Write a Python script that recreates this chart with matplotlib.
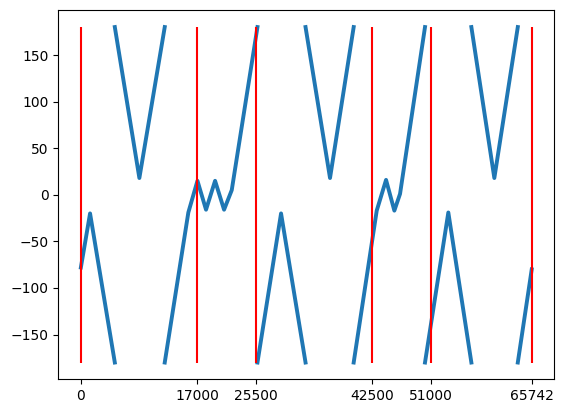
import numpy as np
import matplotlib
matplotlib.use('Agg')
import matplotlib.pyplot as plt

nan = np.nan

# wrapped phase (degrees) -- vertices, NaN breaks at the +-180 wrap
phase_x = [0, 1340, 4950, nan,
           4950, 8530, 12230, nan,
           12230, 15670, 17000, 18250, 19570, 20880, 22000, 25750, nan,
           25750, 29190, 32760, nan,
           32760, 36330, 39780, nan,
           39780, 43140, 44500, 45710, 46540, 50180, nan,
           50180, 53580, 56940, nan,
           56940, 60290, 63710, nan,
           63710, 65742]
phase_y = [-78, -20, -180, nan,
           180, 18, 180, nan,
           -180, -19, 15, -16, 15, -16, 5, 180, nan,
           -180, -20, -180, nan,
           180, 18, 180, nan,
           -180, -17, 16, -17, 1, 180, nan,
           -180, -19, -180, nan,
           180, 18, 180, nan,
           -180, -80]

# boundaries (red markers) and x tick positions
bounds = [0, 17000, 25500, 42500, 51000, 65742]

fig = plt.figure(figsize=(5.63, 4.13), dpi=100)
ax = fig.add_subplot(111)
fig.subplots_adjust(left=0.1036, right=0.9845, top=0.9751, bottom=0.0816)

ax.plot(phase_x, phase_y, color='#1f77b4', linewidth=2.8)
ax.vlines(bounds, -180, 180, colors='r')
ax.set_xticks(bounds)

fig.savefig('out.png', dpi=100)
